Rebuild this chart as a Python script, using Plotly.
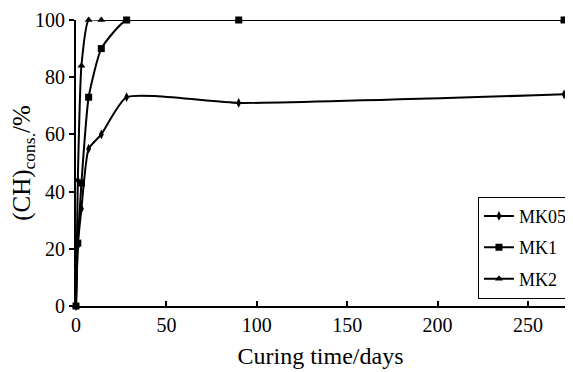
import plotly.graph_objects as go

days = [0, 1, 3, 7, 14, 28, 90, 270]
mk05 = [0, 21, 34, 55, 60, 73, 71, 74]
mk1 = [0, 22, 43, 73, 90, 100, 100, 100]
mk2 = [0, 44, 84, 100, 100, 100, 100, 100]

series = [("MK05", mk05, "diamond-tall"), ("MK1", mk1, "square"), ("MK2", mk2, "triangle-up")]

fig = go.Figure()
for name, vals, sym in series:
    fig.add_trace(go.Scatter(
        x=days, y=vals, name=name, mode="lines+markers", legendgroup=name,
        line=dict(color="black", width=2, shape="spline", smoothing=0.5),
        marker=dict(symbol=sym, size=7, color="black"),
        cliponaxis=False,
    ))

# page body has an 8px default margin, so the figure is 8px smaller and offset
font = "Liberation Serif, Times New Roman, serif"
fig.update_layout(
    width=565, height=364,
    margin=dict(l=68, r=8, t=12, b=66, autoexpand=False),
    paper_bgcolor="white", plot_bgcolor="white",
    font=dict(family=font, color="black", size=20),
    showlegend=True,
    legend=dict(x=0.822, y=0.382, xanchor="left", yanchor="top",
                bordercolor="black", borderwidth=1, bgcolor="white",
                font=dict(size=18), tracegroupgap=5, itemwidth=30),
    xaxis=dict(range=[0, 270.5], tickvals=[0, 50, 100, 150, 200, 250], automargin=False,
               showgrid=False, zeroline=False, showline=True, linecolor="black", linewidth=2,
               ticks="inside", ticklen=5, tickwidth=1.5, tickcolor="black",
               tickfont=dict(size=20),
               title=dict(text="Curing time/days", font=dict(size=24), standoff=12)),
    yaxis=dict(range=[0, 100], tickvals=[0, 20, 40, 60, 80, 100], automargin=False,
               showgrid=False, zeroline=False, showline=True, linecolor="black", linewidth=2,
               ticks="outside", ticklen=5, tickwidth=1.5, tickcolor="black",
               tickfont=dict(size=20),
               title=dict(text="(CH)<sub>cons.</sub>/%", font=dict(size=25), standoff=4)),
)
fig.write_html("out.html")
